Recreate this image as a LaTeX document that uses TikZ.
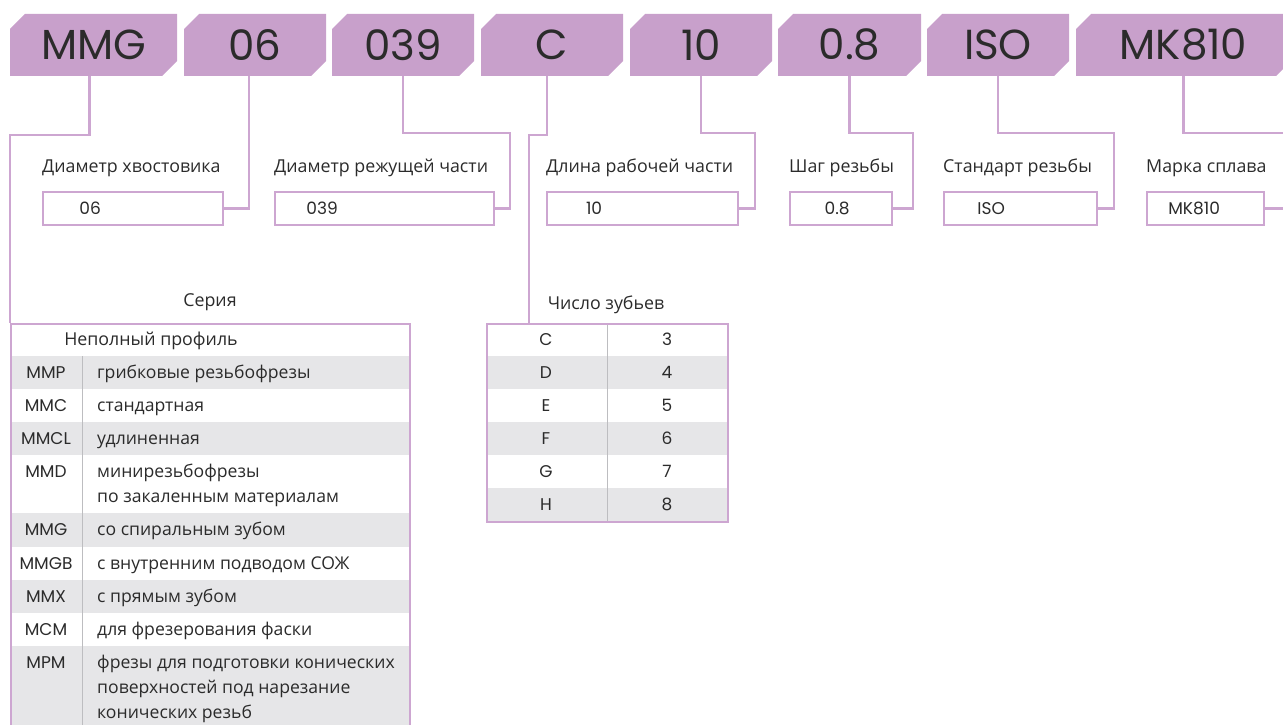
\documentclass[tikz,border=0pt]{standalone}
\usepackage{fontspec}
\setmainfont{Open Sans}
\newfontfamily\latinfont{Poppins}
\usepackage{tikz}
\usetikzlibrary{calc,positioning}
\definecolor{lilacmain}{HTML}{C8A0CB}
\definecolor{lilacline}{HTML}{CDA6D1}
\definecolor{grayrow}{HTML}{E6E6E8}
\definecolor{graydiv}{HTML}{BDBDC0}
\definecolor{inkdark}{HTML}{2B2B2B}
\tikzset{
  every node/.append style={text=inkdark},
  tagtext/.style={inner sep=0pt, minimum height=62pt, font=\latinfont\fontsize{42}{42}\selectfont},
  link/.style={draw=lilacline, line width=2.2pt},
  frame/.style={draw=lilacline, line width=2.2pt, inner sep=0pt, anchor=north west},
  valbox/.style={draw=lilacline, line width=2.2pt, fill=white, minimum height=33pt,
    inner sep=0pt, anchor=west, text width=#1, align=left, font=\latinfont\fontsize{17}{17}\selectfont},
  caption/.style={anchor=base west, inner sep=0pt, font=\fontsize{17.8}{17.8}\selectfont},
  cell/.style={anchor=base, inner sep=0pt, font=\latinfont\fontsize{17}{17}\selectfont},
  desc/.style={anchor=base west, inner sep=0pt, align=left, font=\fontsize{17.6}{25}\selectfont},
}

\begin{document}
\begin{tikzpicture}[x=1pt,y=-1pt]
  \path[use as bounding box] (0,0) rectangle (1283,725);
  \clip (0,0) rectangle (1283,725);

  % code tags
  \foreach \name/\xa/\xb/\txt in {mmg/10/177/MMG, d06/184/326/06, d039/332/474/039,
      dC/481/623/C, d10/630/772/10, d08/778/921/0.8, dISO/927/1069/ISO, dmk/1076/1291/MK810}{
    \fill[lilacmain] (\xa+15,14) -- (\xb,14) -- (\xb,61) -- (\xb-15,76) -- (\xa,76) -- (\xa,29) -- cycle;
    \node[tagtext, minimum width={\xb-\xa}] (\name) at ({(\xa+\xb)/2},45) {\txt};
  }

  % value boxes
  \node[valbox=180pt] (v06) at (42,208.5) {\makebox[94pt]{06}};
  \node[valbox=219pt] (v039) at (274,208.5) {\makebox[94pt]{039}};
  \node[valbox=191pt] (v10) at (546,208.5) {\makebox[94pt]{10}};
  \node[valbox=102pt] (v08) at (789,208.5) {\makebox[94pt]{0.8}};
  \node[valbox=153pt] (vISO) at (943,208.5) {\makebox[94pt]{ISO}};
  \node[valbox=117pt] (vmk) at (1146,208.5) {\makebox[94pt]{MK810}};

  \node[caption] (c06) at ($(v06.north west)+(0,-18)$) {Диаметр хвостовика};
  \node[caption] (c039) at ($(v039.north west)+(0,-18)$) {Диаметр режущей части};
  \node[caption] (c10) at ($(v10.north west)+(0,-18)$) {Длина рабочей части};
  \node[caption] (c08) at ($(v08.north west)+(0,-18)$) {Шаг резьбы};
  \node[caption] (cISO) at ($(vISO.north west)+(0,-18)$) {Стандарт резьбы};
  \node[caption] (cmk) at ($(vmk.north west)+(0,-18)$) {Марка сплава};

  % series table
  \node[caption, anchor=base] (seriatitle) at (210,306) {Серия};
  \node[caption, anchor=base] (profile) at (151,345) {Неполный профиль};
  \foreach \top/\bot/\shade/\ex/\code/\txt [count=\i] in {
      356/389/grayrow/0/MMP/грибковые резьбофрезы,
      389/422/white/0/MMC/стандартная,
      422/455/grayrow/0/MMCL/удлиненная,
      455/513/white/25/MMD/{минирезьбофрезы\\по закаленным материалам},
      513/547/grayrow/0/MMG/со спиральным зубом,
      547/580/white/0/MMGB/с внутренним подводом СОЖ,
      580/613/grayrow/0/MMX/с прямым зубом,
      613/646/white/0/MCM/для фрезерования фаски,
      646/745/grayrow/50/MPM/{фрезы для подготовки конических\\поверхностей под нарезание\\конических резьб}}{
    \fill[\shade] (10,\top) rectangle (409,\bot);
    \node[cell] (code\i) at (46,\top+22) {\code};
    \node[desc] (desc\i) at (97,\top+22+\ex) {\txt};
  }
  \draw[graydiv, line width=1pt] (82,356) -- (82,745);
  \node[frame, minimum width=399pt, minimum height=422pt] (seria) at (10,323) {};

  % teeth table
  \node[caption, anchor=base] (teethtitle) at (606,309) {Число зубьев};
  \foreach \lt/\nm [count=\i from 0] in {C/3, D/4, E/5, F/6, G/7, H/8}{
    \pgfmathsetmacro\rtop{323+33*\i}
    \ifodd\i \fill[grayrow] (486,\rtop) rectangle (727,\rtop+33); \fi
    \node[cell] (tl\i) at (546,\rtop+22) {\lt};
    \node[cell] (tn\i) at (667,\rtop+22) {\nm};
  }
  \draw[graydiv, line width=1pt] (607,323) -- (607,521);
  \node[frame, minimum width=241pt, minimum height=198pt] (teeth) at (486,323) {};

  % connectors
  \coordinate (mkend) at (1300,208.5);
  \draw[link] ([xshift=-4pt]mmg.south) -- ++(0,59) -| (seria.north west);
  \draw[link] ([xshift=-6pt]d06.south) |- (v06.east);
  \draw[link] (d039.south) -- ++(0,57) -| ($(v039.east)+(15,0)$) -- (v039.east);
  \draw[link] ([xshift=-5pt]dC.south) -- ++(0,59) -| ($(teeth.north west)+(43,0)$);
  \draw[link] (d10.south) -- ++(0,57) -| ($(v10.east)+(16,0)$) -- (v10.east);
  \draw[link] (d08.south) -- ++(0,57) -| ($(v08.east)+(20,0)$) -- (v08.east);
  \draw[link] (dISO.south) -- ++(0,57) -| ($(vISO.east)+(16,0)$) -- (vISO.east);
  \draw[link] (dmk.south) -- ++(0,57) -| (mkend) -- (vmk.east);
\end{tikzpicture}
\end{document}
